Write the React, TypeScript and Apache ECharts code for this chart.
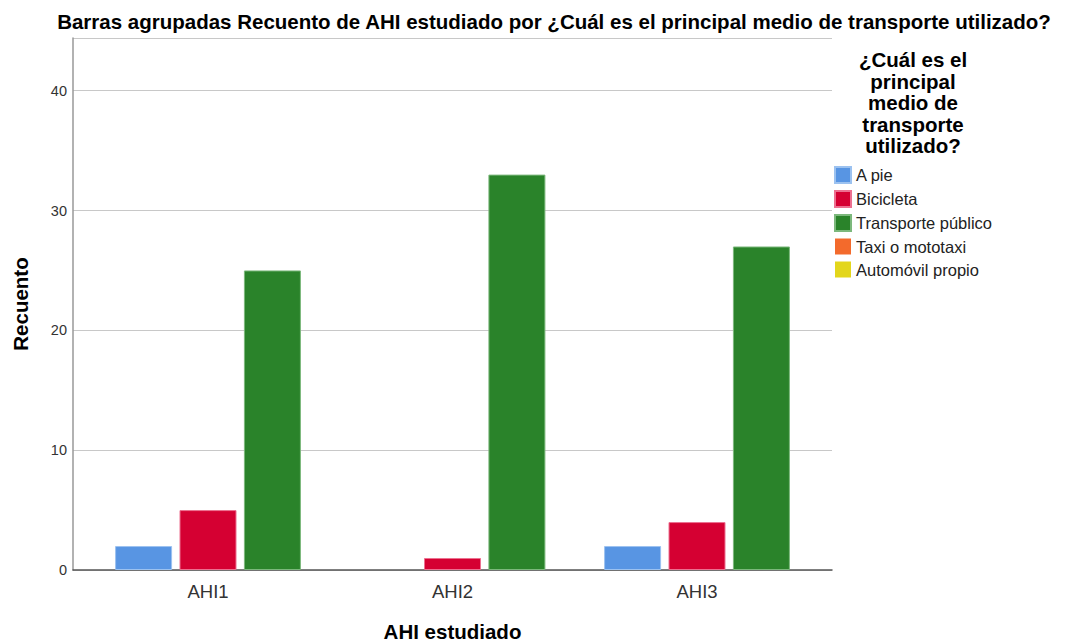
import React, { useEffect, useRef } from "react";
import * as echarts from "echarts";

const categories = ["AHI1", "AHI2", "AHI3"];
const seriesNames = ["A pie", "Bicicleta", "Transporte público", "Taxi o mototaxi", "Automóvil propio"];
const aPie = [2, null, 2];
const bicicleta = [5, 1, 4];
const transportePublico = [25, 33, 27];
const taxi: (number | null)[] = [];
const automovil: (number | null)[] = [];
const colors = ["#5895E3", "#D50032", "#2A832A", "#F36A2C", "#E3D61B"];
const borders = ["#9CC2F0", "#EC7090", "#7CB87C", "#F9A883", "#EFE679"];
const yTicks = [0, 10, 20, 30, 40];

const FONT = "'Liberation Sans', Arial, sans-serif";

export default function App() {
  const ref = useRef<HTMLDivElement>(null);
  useEffect(() => {
    document.body.style.margin = "0";
    const chart = echarts.init(ref.current!, null, { renderer: "svg" });
    const yMax = 44.4;
    const mainData = [aPie, bicicleta, transportePublico];
    const series: any[] = mainData.map((d, i) => ({
      name: seriesNames[i],
      type: "bar",
      xAxisIndex: 1,
      yAxisIndex: 1,
      data: d,
      barWidth: 57,
      barGap: "13%",
      itemStyle: { color: colors[i], borderColor: borders[i], borderWidth: 1 },
    }));
    [taxi, automovil].forEach((d, j) => {
      const i = j + 3;
      series.push({
        name: seriesNames[i],
        type: "bar",
        xAxisIndex: 0,
        yAxisIndex: 0,
        data: d,
        itemStyle: { color: colors[i] },
      });
    });
    chart.setOption({
      animation: false,
      backgroundColor: "#ffffff",
      textStyle: { fontFamily: FONT },
      title: {
        text: "Barras agrupadas Recuento de AHI estudiado por ¿Cuál es el principal medio de transporte utilizado?",
        left: 549,
        textAlign: "center",
        top: 6,
        textStyle: { fontFamily: FONT, fontSize: 20.5, fontWeight: "bold", color: "#000" },
      },
      legend: {
        orient: "vertical",
        left: 834,
        top: 166,
        padding: 0,
        itemWidth: 16,
        itemHeight: 16,
        itemGap: 6,
        icon: "rect",
        data: seriesNames,
        textStyle: { fontFamily: FONT, fontSize: 16.5, color: "#222" },
      },
      graphic: [
        {
          type: "text",
          x: 913,
          y: 49,
          style: {
            text: "¿Cuál es el\nprincipal\nmedio de\ntransporte\nutilizado?",
            textAlign: "center",
            fontFamily: FONT,
            fontSize: 20.5,
            fontWeight: "bold",
            lineHeight: 21.5,
            fill: "#000",
          },
        },
      ],
      grid: [
        { left: 73, right: 240, top: 38, bottom: 73, containLabel: false, outerBoundsMode: "none" },
        { left: 85.75, right: 252.75, top: 38, bottom: 73, containLabel: false, outerBoundsMode: "none" },
      ],
      xAxis: [
        {
          type: "category",
          gridIndex: 0,
          data: [""],
          axisLine: { show: true, lineStyle: { color: "#555", width: 1.5 } },
          axisTick: { show: false },
          axisLabel: { show: false },
          name: "AHI estudiado",
          nameLocation: "middle",
          nameGap: 51,
          nameTextStyle: { fontFamily: FONT, fontSize: 20.5, fontWeight: "bold", color: "#000" },
        },
        {
          type: "category",
          gridIndex: 1,
          data: categories,
          axisLine: { show: false },
          axisTick: { show: false },
          axisLabel: { fontFamily: FONT, fontSize: 18.5, color: "#333", margin: 12 },
        },
      ],
      yAxis: [
        {
          type: "value",
          gridIndex: 0,
          min: 0,
          max: yMax,
          interval: 10,
          axisLine: { show: true, lineStyle: { color: "#999", width: 1.5 } },
          axisTick: { show: false },
          axisLabel: {
            fontFamily: FONT,
            fontSize: 14.5,
            color: "#333",
            margin: 6,
            formatter: (v: number) => (yTicks.includes(v) ? String(v) : ""),
          },
          splitLine: { show: true, lineStyle: { color: "#c8c8c8", width: 1 } },
          name: "Recuento",
          nameLocation: "middle",
          nameGap: 42,
          nameTextStyle: { fontFamily: FONT, fontSize: 20.5, fontWeight: "bold", color: "#000" },
        },
        {
          type: "value",
          gridIndex: 1,
          min: 0,
          max: yMax,
          interval: 10,
          show: false,
          splitLine: { show: false },
        },
      ],
      series,
    });
    return () => chart.dispose();
  }, []);
  return (
    <div
      ref={ref}
      style={{ position: "fixed", left: 0, top: 0, width: 1072, height: 643 }}
    />
  );
}
